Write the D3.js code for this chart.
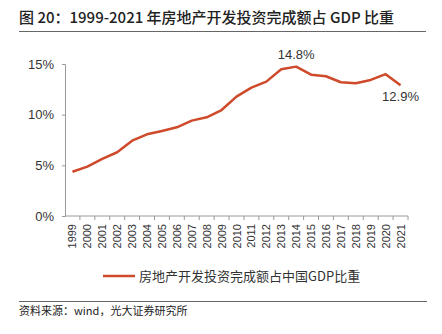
<!DOCTYPE html>
<html>
<head>
<meta charset="utf-8">
<script src="https://cdn.jsdelivr.net/npm/d3@7"></script>
<style>
  body { margin: 0; background: #fff; }
  svg { display: block; }
</style>
</head>
<body>
<div id="chart"></div>
<script>
// 房地产开发投资完成额占GDP比重 (%)
const years = ['1999','2000','2001','2002','2003','2004','2005','2006','2007','2008','2009','2010',
  '2011','2012','2013','2014','2015','2016','2017','2018','2019','2020','2021'];
const shares = [4.37, 4.87, 5.63, 6.29, 7.43, 8.06, 8.39, 8.75, 9.41, 9.74, 10.46, 11.78,
  12.67, 13.26, 14.48, 14.74, 13.95, 13.79, 13.2, 13.1, 13.43, 14.0, 12.9];
const yTicks = [0, 5, 10, 15];
const annotations = [
  { year: '2014', text: '14.8%', dx: 0, dy: -8 },
  { year: '2021', text: '12.9%', dx: 0, dy: 16 }
];
const seriesName = '房地产开发投资完成额占中国GDP比重';
const titleText = '图 20：1999-2021 年房地产开发投资完成额占 GDP 比重';
const sourceText = '资料来源：wind，光大证券研究所';

const width = 442, height = 334;
const margin = { top: 64, right: 34, bottom: 118, left: 65 };
const lineColor = '#cf4a2b';
const axisColor = '#9a9a9a';
const cjk = '"Noto Sans CJK SC", "Noto Sans", sans-serif';
const latin = '"Liberation Sans", Arial, sans-serif';

const svg = d3.select('#chart').append('svg')
  .attr('width', width)
  .attr('height', height);

const x = d3.scaleBand()
  .domain(years)
  .range([margin.left, width - margin.right]);

const y = d3.scaleLinear()
  .domain([0, 15])
  .range([height - margin.bottom, margin.top]);

// title + rule
svg.append('text')
  .attr('x', 19)
  .attr('y', 23)
  .attr('font-family', cjk)
  .attr('font-size', 15)
  .attr('font-weight', 500)
  .attr('fill', '#222')
  .text(titleText);

svg.append('line')
  .attr('x1', 19).attr('x2', 426)
  .attr('y1', 31.5).attr('y2', 31.5)
  .attr('stroke', '#666').attr('stroke-width', 1);

// y axis
const yAxis = svg.append('g')
  .attr('transform', `translate(${margin.left},0)`)
  .call(d3.axisLeft(y).tickValues(yTicks).tickFormat(d => d + '%').tickSize(3).tickPadding(8));

yAxis.select('.domain').attr('stroke', axisColor);
yAxis.selectAll('.tick line').attr('stroke', axisColor);
yAxis.selectAll('.tick text')
  .attr('font-family', latin)
  .attr('font-size', 13)
  .attr('fill', '#333');

// x axis: ticks at band edges
const xAxisY = y(0);
const xg = svg.append('g');
xg.append('line')
  .attr('x1', margin.left).attr('x2', width - margin.right)
  .attr('y1', xAxisY).attr('y2', xAxisY)
  .attr('stroke', axisColor);

xg.selectAll('.edge')
  .data(years)
  .enter()
  .append('line')
  .attr('class', 'edge')
  .attr('x1', d => x(d) + x.bandwidth())
  .attr('x2', d => x(d) + x.bandwidth())
  .attr('y1', xAxisY)
  .attr('y2', xAxisY + 4)
  .attr('stroke', axisColor);

xg.selectAll('.lbl')
  .data(years)
  .enter()
  .append('text')
  .attr('class', 'lbl')
  .attr('transform', d => `translate(${x(d) + x.bandwidth() / 2 + 4},${xAxisY + 8}) rotate(-90)`)
  .attr('text-anchor', 'end')
  .attr('font-family', latin)
  .attr('font-size', 11)
  .attr('fill', '#333')
  .text(d => d);

// line
const line = d3.line()
  .x((d, i) => x(years[i]) + x.bandwidth() / 2)
  .y(d => y(d));

svg.append('path')
  .datum(shares)
  .attr('d', line)
  .attr('fill', 'none')
  .attr('stroke', lineColor)
  .attr('stroke-width', 2.5)
  .attr('stroke-linejoin', 'round');

// data labels
svg.selectAll('.ann')
  .data(annotations)
  .enter()
  .append('text')
  .attr('class', 'ann')
  .attr('x', d => x(d.year) + x.bandwidth() / 2 + d.dx)
  .attr('y', d => y(shares[years.indexOf(d.year)]) + d.dy)
  .attr('text-anchor', 'middle')
  .attr('font-family', latin)
  .attr('font-size', 13)
  .attr('fill', '#333')
  .text(d => d.text);

// legend
const legend = svg.append('g').attr('transform', 'translate(103,276)');
legend.append('line')
  .attr('x1', 0).attr('x2', 32)
  .attr('y1', 0).attr('y2', 0)
  .attr('stroke', lineColor)
  .attr('stroke-width', 2.5);
legend.append('text')
  .attr('x', 36)
  .attr('y', 0)
  .attr('dy', '0.35em')
  .attr('font-family', cjk)
  .attr('font-size', 13)
  .attr('fill', '#333')
  .text(seriesName);

// footer
svg.append('line')
  .attr('x1', 19).attr('x2', 427)
  .attr('y1', 301.5).attr('y2', 301.5)
  .attr('stroke', '#666').attr('stroke-width', 1);

svg.append('text')
  .attr('x', 19)
  .attr('y', 315)
  .attr('font-family', cjk)
  .attr('font-size', 11)
  .attr('fill', '#222')
  .text(sourceText);
</script>
</body>
</html>
